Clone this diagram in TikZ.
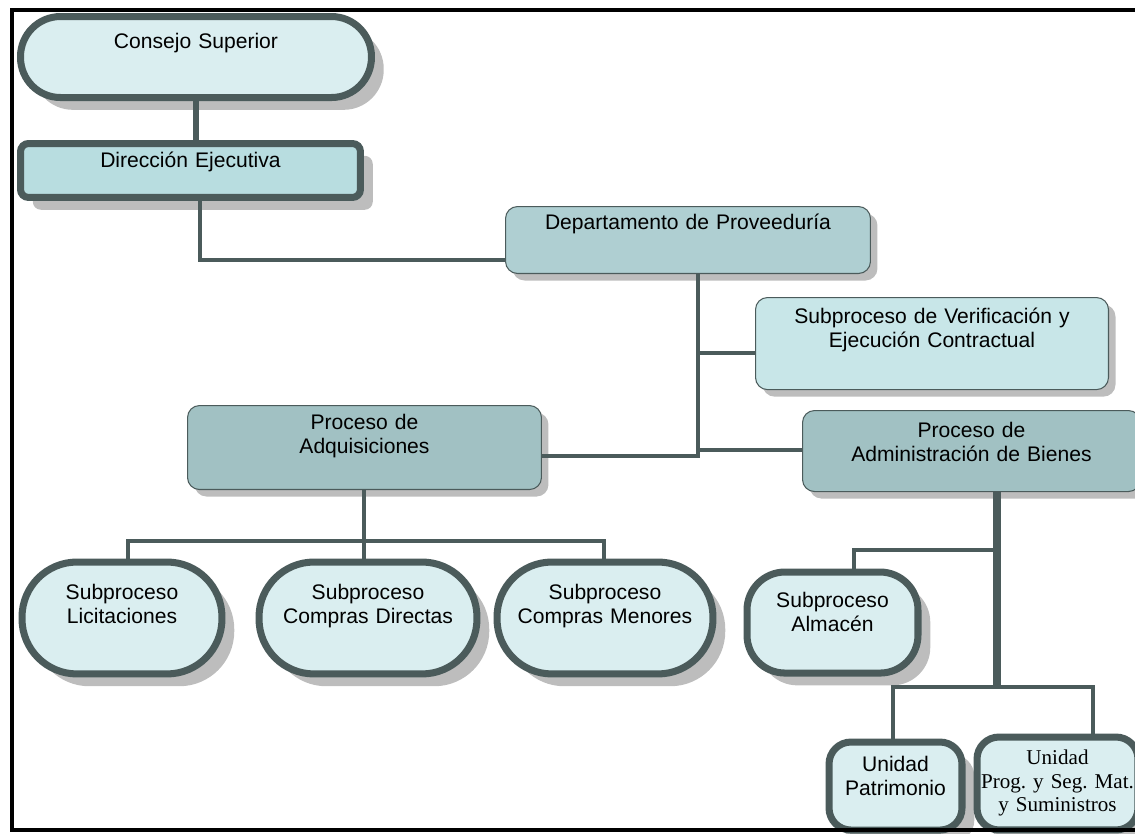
\documentclass[tikz,border=0pt]{standalone}
\usepackage{fontspec}
\setmainfont{Liberation Sans}
\newfontfamily\timesfont{Liberation Serif}
\usepackage{tikz}
\usetikzlibrary{shadows}
\definecolor{rim}{HTML}{4B5B5B}
\definecolor{pale}{HTML}{DAEEF0}
\definecolor{aqua}{HTML}{B8DDE0}
\definecolor{mist}{HTML}{C8E6E8}
\definecolor{sea}{HTML}{AFCFD2}
\definecolor{deep}{HTML}{A1C1C3}

\begin{document}
\begin{tikzpicture}[x=0.02cm,y=-0.02cm,font=\fontsize{12}{13.5}\selectfont,
 ghost/.style={drop shadow={shadow xshift=#1,shadow yshift=-#1,fill=black!26,opacity=1}},
 unit/.style={draw=rim,anchor=north west,inner sep=0pt,align=center},
 bold/.style={unit,line width=4pt,fill=pale,ghost=7pt},
 thin/.style={unit,line width=0.6pt,rounded corners=0.24cm,ghost=4pt},
 link/.style={draw=rim,line width=2.8pt}]
\useasboundingbox (0,0) rectangle (1135,833);
\node[bold,rounded corners=0.8cm,text width=7.02cm,text height=18pt,text depth=28.1pt] (cs) at (17,13) {Consejo Superior};
\node[bold,fill=aqua,rounded corners=0.16cm,text width=6.8cm,text height=13.6pt,text depth=17.1pt] (dir) at (17,140) {Dirección Ejecutiva};
\node[thin,fill=sea,text width=7.3cm,text height=13.1pt,text depth=25pt] (dep) at (505,206) {Departamento de Proveeduría};
\node[thin,fill=mist,text width=7.06cm,text height=14.8pt,text depth=37.6pt] (ver) at (755,297) {Subproceso de Verificación y\\Ejecución Contractual};
\node[thin,fill=deep,text width=7.08cm,text height=13.7pt,text depth=34.1pt] (adq) at (187,405) {Proceso de\\Adquisiciones};
\node[thin,fill=deep,text width=6.76cm,text height=15.4pt,text depth=30.7pt] (adm) at (802,410) {Proceso de\\Administración de Bienes};
\node[bold,rounded corners=1.1cm,text width=4cm,text height=21.3pt,text depth=42.4pt] (lic) at (18.5,558.5) {Subproceso\\Licitaciones};
\node[bold,rounded corners=1.1cm,text width=4.36cm,text height=21.3pt,text depth=42.4pt] (cdi) at (255.5,558.5) {Subproceso\\Compras Directas};
\node[bold,rounded corners=1.1cm,text width=4.32cm,text height=21.3pt,text depth=42.4pt] (cme) at (493.5,558.5) {Subproceso\\Compras Menores};
\node[bold,rounded corners=0.76cm,text width=3.42cm,text height=20.2pt,text depth=37.3pt] (alm) at (743.5,568.5) {Subproceso\\Almacén};
\node[bold,rounded corners=0.44cm,text width=2.66cm,text height=16.8pt,text depth=33.3pt] (pat) at (825.5,738.5) {Unidad\\Patrimonio};
\node[bold,rounded corners=0.44cm,text width=3.22cm,text height=15.6pt,text depth=37.3pt,font=\timesfont\fontsize{12}{13.5}\selectfont] (prg) at (973.5,733.5) {Unidad\\Prog.\ y Seg.\ Mat.\\y Suministros};
% junctions
\coordinate (j1) at (200,260);
\coordinate (j2) at (698,456);
\coordinate (j3) at (698,353);
\coordinate (j4) at (698,450);
\coordinate (k0) at (364,541);
\coordinate (k1) at (128,541);
\coordinate (k3) at (604,541);
\coordinate (m0) at (997,550);
\coordinate (m1) at (997,687);
\coordinate (m2) at (854,550);
\coordinate (m3) at (893,687);
\coordinate (m4) at (1093,687);
\draw[link,line width=3.4pt] (cs.south) -- (cs.south |- dir.north);
\draw[link] (dir.south -| j1) |- (dep.west |- j1);
\draw[link] (dep.south -| j2) -- (j2) -- (adq.east |- j2);
\draw[link] (j3) -- (ver.west |- j3);
\draw[link] (j4) -- (adm.west |- j4);
\draw[link] (adq.south -| k0) -- (cdi.north -| k0);
\draw[link] (lic.north -| k1) |- (k3) -- (cme.north -| k3);
\draw[link,line width=4.5pt] (adm.south -| m0) -- (m1);
\draw[link] (m0) -| (alm.north -| m2);
\draw[link] (pat.north -| m3) |- (m4) -- (prg.north -| m4);
% frame
\draw[line width=2pt] (1140,10) -- (12,10) -- (12,830) -- (1140,830);
\end{tikzpicture}
\end{document}
